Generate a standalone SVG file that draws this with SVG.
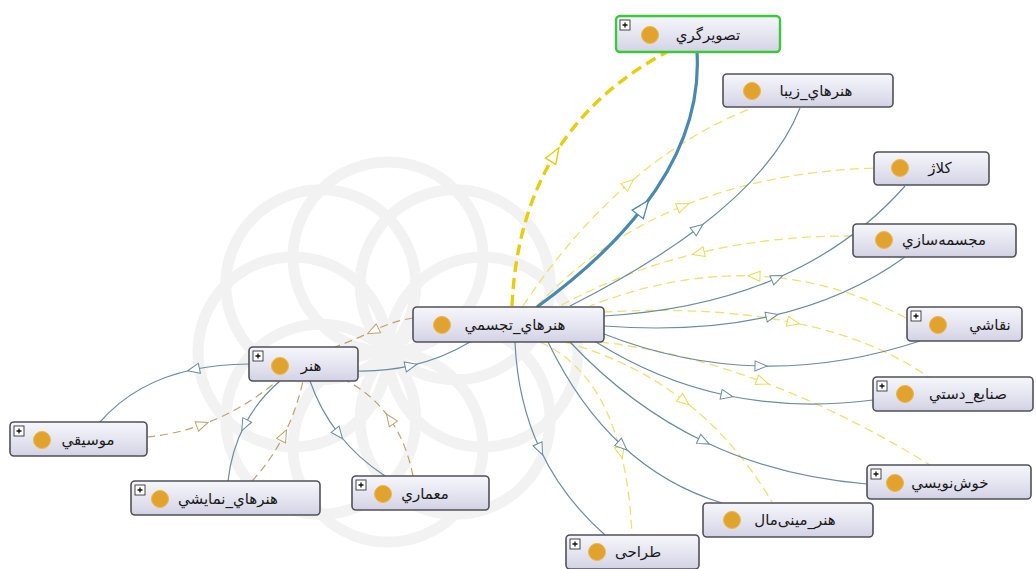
<svg xmlns="http://www.w3.org/2000/svg" width="1036" height="569" viewBox="0 0 1036 569">
<defs>
<linearGradient id="nodeGrad" x1="0" y1="0" x2="0" y2="1">
<stop offset="0" stop-color="#f6f6fb"/>
<stop offset="0.55" stop-color="#e4e4f0"/>
<stop offset="1" stop-color="#d2d2e4"/>
</linearGradient>
<marker id="mBlue" viewBox="0 0 14 12" refX="7" refY="6" markerWidth="14" markerHeight="12" markerUnits="userSpaceOnUse" orient="auto">
<path d="M1,1 L13,6 L1,11 Z" fill="#ffffff" stroke="#6a8ca2" stroke-width="1"/>
</marker>
<marker id="mBlueThick" viewBox="0 0 20 16" refX="10" refY="8" markerWidth="20" markerHeight="16" markerUnits="userSpaceOnUse" orient="auto">
<path d="M1,1 L19,8 L1,15 Z" fill="#ffffff" stroke="#4a88b0" stroke-width="1.3"/>
</marker>
<marker id="mYellow" viewBox="0 0 14 12" refX="7" refY="6" markerWidth="14" markerHeight="12" markerUnits="userSpaceOnUse" orient="auto">
<path d="M1,1 L13,6 L1,11 Z" fill="#ffffff" stroke="#ecd84a" stroke-width="1"/>
</marker>
<marker id="mYellowThick" viewBox="0 0 18 14" refX="9" refY="7" markerWidth="18" markerHeight="14" markerUnits="userSpaceOnUse" orient="auto">
<path d="M1,1 L17,7 L1,13 Z" fill="#ffffff" stroke="#e6cc10" stroke-width="1.4"/>
</marker>
<marker id="mBrown" viewBox="0 0 14 12" refX="7" refY="6" markerWidth="14" markerHeight="12" markerUnits="userSpaceOnUse" orient="auto">
<path d="M1,1 L13,6 L1,11 Z" fill="#ffffff" stroke="#c0a070" stroke-width="1"/>
</marker>
<g id="plusBox">
<rect x="0" y="0" width="10" height="10" fill="#ffffff" stroke="#333333" stroke-width="0.9"/>
<path d="M2.5,5 H7.5 M5,2.5 V7.5" stroke="#111111" stroke-width="1.3"/>
</g>
</defs>
<style>
.node rect.box { fill: url(#nodeGrad); stroke: #505058; stroke-width: 1.6; }
.node rect.sel { stroke: #3cc83c; stroke-width: 2.4; }
.node circle { fill: #e2a32e; stroke: #e9b84c; stroke-width: 1; }
.node text { font-family: "DejaVu Sans", "Noto Sans", sans-serif; font-size: 15px; fill: #1a1a1a; text-anchor: middle; }
.blue { fill: none; stroke: #6a8ca2; stroke-width: 1.2; marker-mid: url(#mBlue); }
.blueThick { fill: none; stroke: #4a88b0; stroke-width: 3.2; marker-mid: url(#mBlueThick); }
.yellow { fill: none; stroke: #f0e070; stroke-width: 1.3; stroke-dasharray: 9 5; marker-mid: url(#mYellow); }
.yellowThick { fill: none; stroke: #e8cc10; stroke-width: 3.4; stroke-dasharray: 11 6; marker-mid: url(#mYellowThick); }
.brown { fill: none; stroke: #c0a070; stroke-width: 1.2; stroke-dasharray: 8 5; marker-mid: url(#mBrown); }
.wm circle { fill: none; stroke: #f2f2f2; stroke-width: 11; }
</style>
<rect x="0" y="0" width="1036" height="569" fill="#ffffff"/>

<g id="watermark" class="wm" transform="translate(388,352)">
<circle cx="95" cy="0" r="95" transform="rotate(0)"/>
<circle cx="95" cy="0" r="95" transform="rotate(45)"/>
<circle cx="95" cy="0" r="95" transform="rotate(90)"/>
<circle cx="95" cy="0" r="95" transform="rotate(135)"/>
<circle cx="95" cy="0" r="95" transform="rotate(180)"/>
<circle cx="95" cy="0" r="95" transform="rotate(225)"/>
<circle cx="95" cy="0" r="95" transform="rotate(270)"/>
<circle cx="95" cy="0" r="95" transform="rotate(315)"/>
</g>

<g id="connectors">
<path class="yellow" d="M523,306 Q571.5,233 628.8,183.5 Q686,134 752,108"/>
<path class="yellow" d="M537,306 Q598.5,240.5 683,206 Q767.5,171.5 875,168"/>
<path class="yellow" d="M853,236 Q771.5,235.5 698.3,253 Q625,270.5 560,306"/>
<path class="yellow" d="M906,318 Q833,279 754,276 Q675,273 590,306"/>
<path class="yellow" d="M603,312 Q711.5,306 793.3,322.5 Q875,339 930,378"/>
<path class="yellow" d="M600,342 Q680,351 762.5,381.8 Q845,412.5 930,465"/>
<path class="yellow" d="M565,342 Q632.5,361 684.3,401 Q736,441 772,502"/>
<path class="yellow" d="M540,342 Q599.5,368.6 620.8,452.5 Q629.9,488.5 632,535"/>
<path class="yellowThick" d="M512,306 Q516,218 554.8,154.5 Q593.5,91 667,52"/>

<path class="blue" d="M570,306 Q646,267.6 698,228.2 Q776,169.2 800,108"/>
<path class="blue" d="M604,316 Q702,310.5 777.3,278 Q852.5,245.5 905,186"/>
<path class="blue" d="M604,326 Q697,333 772,315.8 Q847.5,298.5 905,257"/>
<path class="blue" d="M604,334 Q682,364.5 761,366 Q840,367.5 920,341"/>
<path class="blue" d="M596,342 Q658,381 727,395.5 Q796.5,410 873,400"/>
<path class="blue" d="M570,342 Q630,406 704,441.5 Q778,477 867,484"/>
<path class="blue" d="M548,342 Q579,406 622.5,446 Q666,486 722,503"/>
<path class="blue" d="M515,342 Q517.5,401 540,449.3 Q562.5,497.5 605,535"/>
<path class="blueThick" d="M537,307 Q604.2,258.2 643.2,207.3 Q701.8,131 697,52"/>

<path class="blue" d="M358,371 Q385.4,371.5 411.1,365.6 Q442.5,358.5 470,342"/>
<path class="brown" d="M413,318 Q391.5,321.5 373,331 Q354,340 335,347"/>
<path class="blue" d="M249,364 Q218.6,364.3 193.5,369.5 Q135,381.8 100,422"/>
<path class="brown" d="M147,437 Q175.6,434.2 202.5,424.5 Q242.8,410 277,381"/>
<path class="blue" d="M280,381 Q257.5,400 244.5,425.3 Q231.5,450.5 228,481"/>
<path class="brown" d="M252,481 Q271,460.5 283.8,435.3 Q296.5,410 303,381"/>
<path class="blue" d="M310,381 Q320,410 338.8,434 Q357.5,458 385,476"/>
<path class="brown" d="M413,476 Q406.5,443 390,419 Q373.5,395 347,381"/>
</g>

<g id="n_tasvirgari" class="node">
<rect class="box sel" x="616" y="16" width="164" height="36" rx="4"/>
<use href="#plusBox" x="620" y="20"/>
<circle cx="650" cy="35" r="8.5"/>
<text x="708" y="40">تصويرگري</text>
</g>
<g id="n_honarhaye_ziba" class="node">
<rect class="box" x="723" y="74" width="170" height="33" rx="4"/>
<circle cx="752" cy="91" r="8.5"/>
<text x="816" y="96">هنرهاي_زيبا</text>
</g>
<g id="n_kolazh" class="node">
<rect class="box" x="874" y="152" width="115" height="33" rx="4"/>
<circle cx="900" cy="168" r="8.5"/>
<text x="940" y="173">كلاژ</text>
</g>
<g id="n_mojassamesazi" class="node">
<rect class="box" x="853" y="224" width="163" height="33" rx="4"/>
<circle cx="884" cy="240" r="8.5"/>
<text x="944" y="245">مجسمه‌سازي</text>
</g>
<g id="n_naqqashi" class="node">
<rect class="box" x="907" y="307" width="115" height="34" rx="4"/>
<use href="#plusBox" x="911" y="311"/>
<circle cx="938" cy="325" r="8.5"/>
<text x="990" y="330">نقاشي</text>
</g>
<g id="n_sanaye_dasti" class="node">
<rect class="box" x="873" y="377" width="160" height="34" rx="4"/>
<use href="#plusBox" x="877" y="381"/>
<circle cx="905" cy="394" r="8.5"/>
<text x="968" y="399">صنايع_دستي</text>
</g>
<g id="n_khoshnevisi" class="node">
<rect class="box" x="867" y="465" width="164" height="34" rx="4"/>
<use href="#plusBox" x="871" y="469"/>
<circle cx="895" cy="483" r="8.5"/>
<text x="950" y="488">خوش‌نويسي</text>
</g>
<g id="n_honar_minimal" class="node">
<rect class="box" x="703" y="503" width="170" height="34" rx="4"/>
<circle cx="732" cy="520" r="8.5"/>
<text x="795" y="525">هنر_مينی‌مال</text>
</g>
<g id="n_tarahi" class="node">
<rect class="box" x="566" y="535" width="133" height="34" rx="4"/>
<use href="#plusBox" x="570" y="539"/>
<circle cx="597" cy="552" r="8.5"/>
<text x="638" y="557">طراحی</text>
</g>
<g id="n_honarhaye_tajassomi" class="node">
<rect class="box" x="413" y="307" width="191" height="35" rx="4"/>
<circle cx="442" cy="325" r="8.5"/>
<text x="515" y="330">هنرهاي_تجسمي</text>
</g>
<g id="n_honar" class="node">
<rect class="box" x="249" y="347" width="109" height="34" rx="4"/>
<use href="#plusBox" x="253" y="351"/>
<circle cx="280" cy="366" r="8.5"/>
<text x="311" y="371">هنر</text>
</g>
<g id="n_musiqi" class="node">
<rect class="box" x="10" y="422" width="137" height="34" rx="4"/>
<use href="#plusBox" x="14" y="426"/>
<circle cx="42" cy="440" r="8.5"/>
<text x="88" y="445">موسيقي</text>
</g>
<g id="n_honarhaye_namayeshi" class="node">
<rect class="box" x="131" y="481" width="189" height="34" rx="4"/>
<use href="#plusBox" x="135" y="485"/>
<circle cx="160" cy="499" r="8.5"/>
<text x="228" y="504">هنرهاي_نمايشي</text>
</g>
<g id="n_memari" class="node">
<rect class="box" x="352" y="476" width="137" height="34" rx="4"/>
<use href="#plusBox" x="356" y="480"/>
<circle cx="383" cy="494" r="8.5"/>
<text x="425" y="499">معماري</text>
</g>
</svg>
